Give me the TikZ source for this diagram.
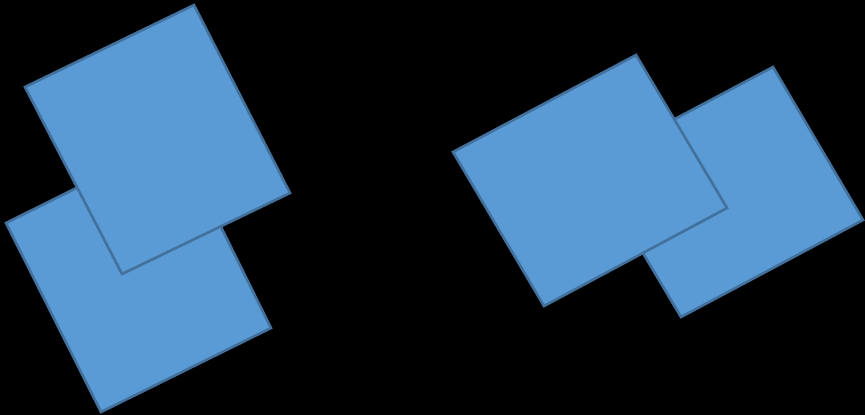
\documentclass[tikz,border=0pt]{standalone}
\usepackage{xcolor}
\usepackage{tikz}

\definecolor{tilefill}{HTML}{5B9BD5}
\definecolor{tileedge}{HTML}{41719C}

\begin{document}
\begin{tikzpicture}[
  x=1pt, y=-1pt,
  tile/.style={fill=tilefill, draw=tileedge, line width=2.6pt, line join=miter},
]
  \fill[black] (0,0) rectangle (865,415);
  \useasboundingbox (0,0) rectangle (865,415);
  % left pair
  \draw[tile] (6,223) -- (177,138) -- (271,328) -- (101,412) -- cycle;
  \draw[tile] (25,87) -- (194,5) -- (290,193) -- (122,274) -- cycle;
  % right pair
  \draw[tile] (590,164) -- (773,67) -- (863,220) -- (681,317) -- cycle;
  \draw[tile] (453,152) -- (636,55) -- (727,208) -- (544,306) -- cycle;
\end{tikzpicture}
\end{document}
